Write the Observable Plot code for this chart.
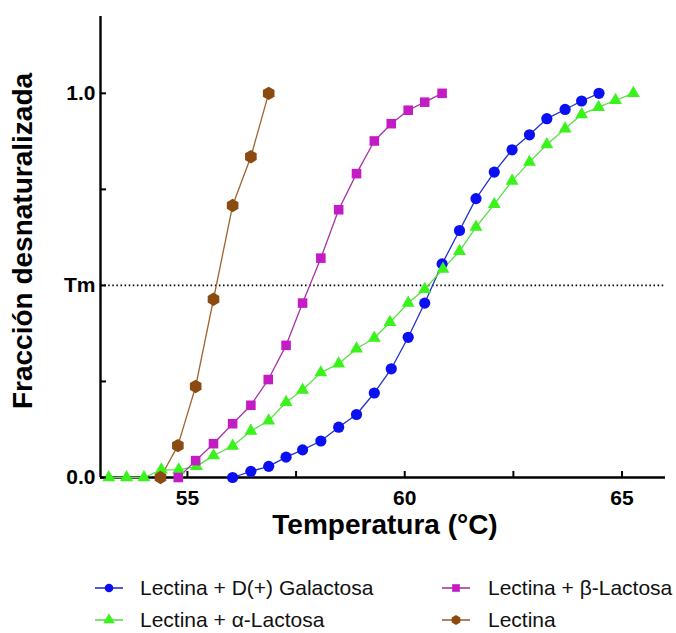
<!DOCTYPE html>
<html>
<head>
<meta charset="utf-8">
<script src="https://cdn.jsdelivr.net/npm/d3@7"></script>
<script src="https://cdn.jsdelivr.net/npm/@observablehq/plot@0.6"></script>
<style>
  body { margin: 0; background: #fff; font-family: "Liberation Sans", Arial, sans-serif; }
  #wrap { position: relative; width: 676px; height: 633px; background: #fff; }
  #chart { position: absolute; left: 0; top: 0; }
  .leg { position: absolute; display: flex; align-items: center; height: 24px; font-size: 21px; color: #111; white-space: nowrap; }
  .leg svg { display: block; }
</style>
</head>
<body>
<div id="wrap"><div id="chart"></div></div>
<script>
// ---- Data ----
const seriesNames = ["Lectina + D(+) Galactosa", "Lectina + α-Lactosa", "Lectina + β-Lactosa", "Lectina"];
const seriesSymbols = ["circle", "triangle", "square", "hexagon"];
const seriesFill = ["#0a10f2", "#3af21c", "#c41cc4", "#8a4a10"];
const seriesLine = ["#2232cc", "#5ade46", "#a832a8", "#a0632c"];

const galTemp = [56.04,56.46,56.87,57.27,57.65,58.07,58.48,58.89,59.30,59.69,60.08,60.46,60.86,61.26,61.64,62.06,62.47,62.87,63.27,63.69,64.07,64.47];
const galFrac = [0,0.016,0.029,0.053,0.072,0.095,0.131,0.164,0.220,0.283,0.365,0.454,0.556,0.643,0.726,0.795,0.853,0.892,0.934,0.958,0.980,1.0];

const alfaTemp = [53.19,53.60,54.00,54.40,54.80,55.21,55.60,56.04,56.46,56.87,57.27,57.65,58.07,58.48,58.89,59.30,59.66,60.08,60.46,60.88,61.26,61.64,62.06,62.47,62.87,63.27,63.69,64.07,64.46,64.85,65.26];
const alfaFrac = [0,0,0,0.020,0.020,0.029,0.057,0.082,0.121,0.148,0.196,0.228,0.273,0.296,0.335,0.363,0.404,0.454,0.490,0.543,0.589,0.652,0.711,0.772,0.821,0.867,0.908,0.945,0.964,0.982,1.0];

const betaTemp = [54.79,55.19,55.60,56.04,56.46,56.86,57.27,57.65,58.07,58.48,58.89,59.30,59.69,60.08,60.46,60.86];
const betaFrac = [0,0.044,0.088,0.140,0.188,0.255,0.344,0.454,0.571,0.697,0.791,0.876,0.921,0.956,0.977,1.0];

const lecTemp = [54.38,54.78,55.19,55.60,56.04,56.46,56.87];
const lecFrac = [0,0.083,0.237,0.464,0.708,0.835,1.0];

const xTickLabels = [55, 60, 65];
const xTickMarks = [55, 57.5, 60, 62.5, 65];
const yTickLabels = [0, 0.5, 1];
const yTickMarks = [0, 0.25, 0.5, 0.75, 1];
const tmValue = 0.5;
const xDomain = [53, 66];
const yDomain = [0, 1.2];

// ---- Build table ----
const temps = [galTemp, alfaTemp, betaTemp, lecTemp];
const fracs = [galFrac, alfaFrac, betaFrac, lecFrac];
const rows = [];
seriesNames.forEach((name, i) => {
  temps[i].forEach((t, j) => rows.push({series: name, temp: t, frac: fracs[i][j]}));
});

const font = "Liberation Sans, Arial, sans-serif";
const dotR = [5.6, 4.8, 5.4, 5.8];

const marks = [
  Plot.ruleX([xDomain[0]], {y1: yDomain[0], y2: yDomain[1], stroke: "#000", strokeWidth: 2.4}),
  Plot.ruleY([0], {x1: xDomain[0], x2: xDomain[1], stroke: "#000", strokeWidth: 2.4}),
  Plot.ruleY([tmValue], {x1: xDomain[0], x2: xDomain[1], stroke: "#000", strokeWidth: 1.8, strokeDasharray: "1.5,2.6"}),
];
seriesNames.forEach((name, i) => {
  marks.push(Plot.line(rows.filter(d => d.series === name), {x: "temp", y: "frac", stroke: seriesLine[i], strokeWidth: 1.3}));
});
seriesNames.forEach((name, i) => {
  marks.push(Plot.dot(rows.filter(d => d.series === name), {x: "temp", y: "frac", symbol: () => seriesSymbols[i], fill: seriesFill[i], stroke: "none", r: dotR[i]}));
});
marks.push(
  Plot.axisY(yTickLabels, {tickSize: 0, tickPadding: 5, tickFormat: d => d === tmValue ? "Tm" : d.toFixed(1), fontSize: 21, fontWeight: "bold", fill: "#000", label: null}),
  Plot.axisY(yTickMarks, {tickSize: -6, tickFormat: () => "", strokeWidth: 2, stroke: "#000", label: null}),
  Plot.axisX(xTickLabels, {tickSize: 0, tickPadding: 13, fontSize: 21, fontWeight: "bold", fill: "#000", label: null}),
  Plot.axisX(xTickMarks, {tickSize: -6, tickFormat: () => "", strokeWidth: 2, stroke: "#000", label: null}),
  Plot.text(["Temperatura (°C)"], {frameAnchor: "bottom", dy: 56, dx: 2, fontSize: 28, fontWeight: "bold", fill: "#000"}),
  Plot.text(["Fracción desnaturalizada"], {frameAnchor: "left", textAnchor: "middle", rotate: -90, dx: -77, dy: -6, fontSize: 28, fontWeight: "bold", fill: "#000"})
);

const plot = Plot.plot({
  width: 676,
  height: 560,
  marginLeft: 100,
  marginRight: 11,
  marginTop: 16,
  marginBottom: 83,
  x: {domain: xDomain},
  y: {domain: yDomain},
  symbol: {type: "identity"},
  style: {fontFamily: font, background: "white", overflow: "visible"},
  marks
});
document.getElementById("chart").appendChild(plot);

// ---- Legend (HTML, below the plot) ----
function markerPath(shape, r) {
  if (shape === "hexagon") {
    const rx = r, ry = r * 2 / Math.sqrt(3);
    return `M0,${-ry}L${rx},${-ry/2}L${rx},${ry/2}L0,${ry}L${-rx},${ry/2}L${-rx},${-ry/2}Z`;
  }
  const t = {circle: d3.symbolCircle, triangle: d3.symbolTriangle, square: d3.symbolSquare}[shape];
  return d3.symbol(t, Math.PI * r * r)();
}
const legendPos = [
  {left: 95, top: 576, text: 140},
  {left: 95, top: 608, text: 140},
  {left: 442, top: 576, text: 488},
  {left: 442, top: 608, text: 488}
];
const wrap = document.getElementById("wrap");
seriesNames.forEach((name, i) => {
  const p = legendPos[i];
  const div = document.createElement("div");
  div.className = "leg";
  div.style.left = p.left + "px";
  div.style.top = p.top + "px";
  const w = 28;
  div.innerHTML = `<svg width="${w}" height="24"><line x1="0" x2="${w}" y1="12" y2="12" stroke="${seriesLine[i]}" stroke-width="1.6"/>` +
    `<path transform="translate(${w/2},12)" d="${markerPath(seriesSymbols[i], 4.3)}" fill="${seriesFill[i]}"/></svg>` +
    `<span style="margin-left:${p.text - p.left - w}px">${name}</span>`;
  wrap.appendChild(div);
});
</script>
</body>
</html>
